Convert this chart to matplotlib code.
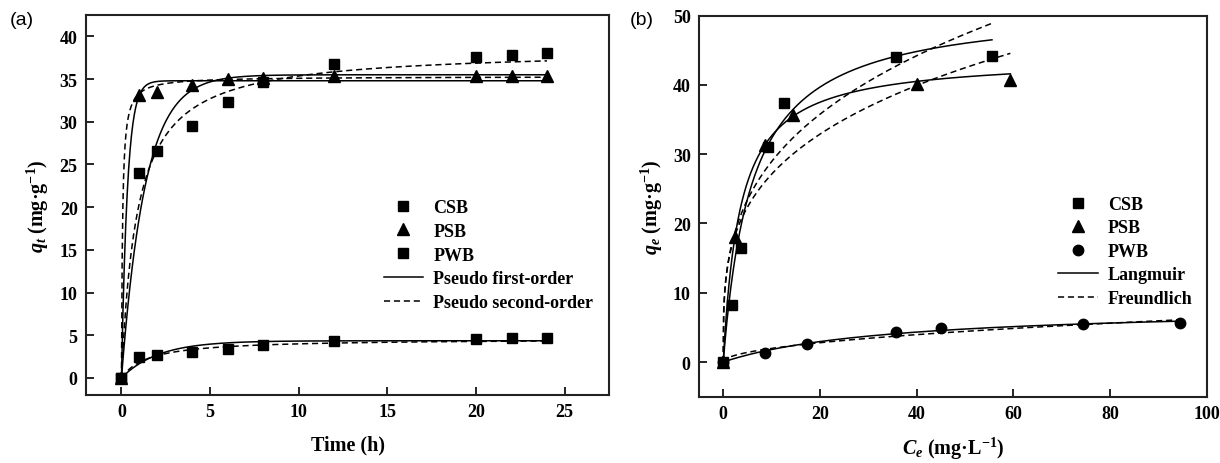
import numpy as np
import matplotlib
matplotlib.use("Agg")
import matplotlib.pyplot as plt
from matplotlib.lines import Line2D

plt.rcParams['font.family'] = ['Liberation Serif', 'DejaVu Serif']
plt.rcParams['font.weight'] = 'bold'
plt.rcParams['mathtext.fontset'] = 'custom'
plt.rcParams['mathtext.rm'] = 'Liberation Serif:bold'
plt.rcParams['mathtext.it'] = 'Liberation Serif:italic:bold'
plt.rcParams['mathtext.bf'] = 'Liberation Serif:bold'

# ---------------- Panel (a): kinetics ----------------
time_h = [0, 1, 2, 4, 6, 8, 12, 20, 22, 24]
qt_csb = [0, 24.0, 26.6, 29.5, 32.3, 34.6, 36.8, 37.6, 37.8, 38.1]
qt_psb = [0, 33.1, 33.5, 34.3, 35.0, 35.1, 35.3, 35.3, 35.3, 35.4]
qt_pwb = [0, 2.5, 2.7, 3.0, 3.4, 3.9, 4.3, 4.6, 4.7, 4.7]

# pseudo first-order parameters (qe, k1)
pfo_params = {"CSB": (35.5, 0.75), "PSB": (34.8, 3.0), "PWB": (4.35, 0.48)}
# pseudo second-order parameters (qe, h = k2*qe^2)
pso_params = {"CSB": (38.5, 43.4), "PSB": (35.3, 588.0), "PWB": (4.6, 3.0)}

# ---------------- Panel (b): isotherms ----------------
ce_csb = [0, 1.8, 3.6, 9.2, 12.6, 35.7, 55.6]
qe_csb = [0, 8.2, 16.4, 31.0, 37.4, 44.1, 44.2]
ce_psb = [0, 2.4, 8.7, 14.5, 40.0, 59.4]
qe_psb = [0, 18.0, 31.4, 35.6, 40.2, 40.7]
ce_pwb = [0, 8.7, 17.4, 35.7, 45.1, 74.5, 94.4]
qe_pwb = [0, 1.3, 2.55, 4.3, 4.9, 5.5, 5.7]

# Langmuir (qm, KL), Freundlich (KF, 1/n)
lang_params = {"CSB": (51.5, 0.168), "PSB": (44.05, 0.2865), "PWB": (8.06, 0.0289)}
freu_params = {"CSB": (14.3, 0.306), "PSB": (14.26, 0.279), "PWB": (0.616, 0.504)}
ce_max = {"CSB": 55.6, "PSB": 59.4, "PWB": 94.4}

fig = plt.figure(figsize=(12.2, 4.64), dpi=100)
axa = fig.add_axes([0.0705, 0.1466, 0.4287, 0.8189])
axb = fig.add_axes([0.573, 0.143, 0.416, 0.821])

ms_sq = 7
ms_tri = 8
lw = 1.1
tick_fs = 13
leg_fs = 13
lab_fs = 14.5

def style(ax):
    for s in ax.spines.values():
        s.set_linewidth(1.5)
        s.set_color('#222222')
    ax.tick_params(direction='in', length=6, width=1.2, labelsize=tick_fs, top=False, right=False, pad=6)
    for lab in ax.get_xticklabels() + ax.get_yticklabels():
        lab.set_fontweight('bold')

# Panel a
t = np.linspace(0, 24, 600)
for name in ["CSB", "PSB", "PWB"]:
    qe, k1 = pfo_params[name]
    axa.plot(t, qe * (1 - np.exp(-k1 * t)), '-', color='black', lw=lw)
    qe2, h = pso_params[name]
    axa.plot(t, h * t / (1 + h * t / qe2), '--', color='black', lw=lw, dashes=(4, 2.5))
axa.plot(time_h, qt_csb, 's', color='black', ms=ms_sq, ls='none')
axa.plot(time_h, qt_psb, '^', color='black', ms=ms_tri, ls='none')
axa.plot(time_h, qt_pwb, 's', color='black', ms=ms_sq, ls='none')
axa.set_xlim(-2, 27.5)
axa.set_ylim(-2, 42.5)
axa.set_xticks([0, 5, 10, 15, 20, 25])
axa.set_yticks(range(0, 41, 5))
style(axa)
axa.set_xlabel('Time (h)', fontsize=lab_fs, fontweight='bold', labelpad=10)
axa.set_ylabel(r'$q_t$ (mg·g$^{-1}$)', fontsize=lab_fs, fontweight='bold', labelpad=6)

handles_a = [
    Line2D([], [], marker='s', color='black', ls='none', ms=ms_sq),
    Line2D([], [], marker='^', color='black', ls='none', ms=ms_tri),
    Line2D([], [], marker='s', color='black', ls='none', ms=ms_sq),
    Line2D([], [], color='black', ls='-', lw=lw),
    Line2D([], [], color='black', ls='--', lw=lw, dashes=(4, 2.5)),
]
labels_a = ['CSB', 'PSB', 'PWB', 'Pseudo first-order', 'Pseudo second-order']
axa.legend(handles_a, labels_a, loc='upper left', bbox_to_anchor=(0.555, 0.535),
           frameon=False, prop={'weight': 'bold', 'size': leg_fs},
           handlelength=2.2, handletextpad=0.55, labelspacing=0.38, borderaxespad=0)

# Panel b
for name in ["CSB", "PSB", "PWB"]:
    c = np.linspace(0, ce_max[name], 600)
    qm, kl = lang_params[name]
    axb.plot(c, qm * kl * c / (1 + kl * c), '-', color='black', lw=lw)
    kf, inv_n = freu_params[name]
    axb.plot(c, kf * c ** inv_n, '--', color='black', lw=lw, dashes=(4, 2.5))
axb.plot(ce_csb, qe_csb, 's', color='black', ms=ms_sq, ls='none')
axb.plot(ce_psb, qe_psb, '^', color='black', ms=ms_tri, ls='none')
axb.plot(ce_pwb, qe_pwb, 'o', color='black', ms=ms_sq + 0.5, ls='none')
axb.set_xlim(-5, 100)
axb.set_ylim(-5, 50)
axb.set_xticks([0, 20, 40, 60, 80, 100])
axb.set_yticks([0, 10, 20, 30, 40, 50])
style(axb)
axb.set_xlabel(r'$C_e$ (mg·L$^{-1}$)', fontsize=lab_fs, fontweight='bold', labelpad=9)
axb.set_ylabel(r'$q_e$ (mg·g$^{-1}$)', fontsize=lab_fs, fontweight='bold', labelpad=6)

handles_b = [
    Line2D([], [], marker='s', color='black', ls='none', ms=ms_sq),
    Line2D([], [], marker='^', color='black', ls='none', ms=ms_tri),
    Line2D([], [], marker='o', color='black', ls='none', ms=ms_sq + 0.5),
    Line2D([], [], color='black', ls='-', lw=lw),
    Line2D([], [], color='black', ls='--', lw=lw, dashes=(4, 2.5)),
]
labels_b = ['CSB', 'PSB', 'PWB', 'Langmuir', 'Freundlich']
axb.legend(handles_b, labels_b, loc='upper left', bbox_to_anchor=(0.693, 0.546),
           frameon=False, prop={'weight': 'bold', 'size': leg_fs},
           handlelength=2.2, handletextpad=0.55, labelspacing=0.36, borderaxespad=0)

fig.text(0.008, 0.955, '(a)', fontsize=14, family='Liberation Sans', weight='normal', va='center')
fig.text(0.516, 0.955, '(b)', fontsize=14, family='Liberation Sans', weight='normal', va='center')

fig.savefig('out.png', dpi=100)
